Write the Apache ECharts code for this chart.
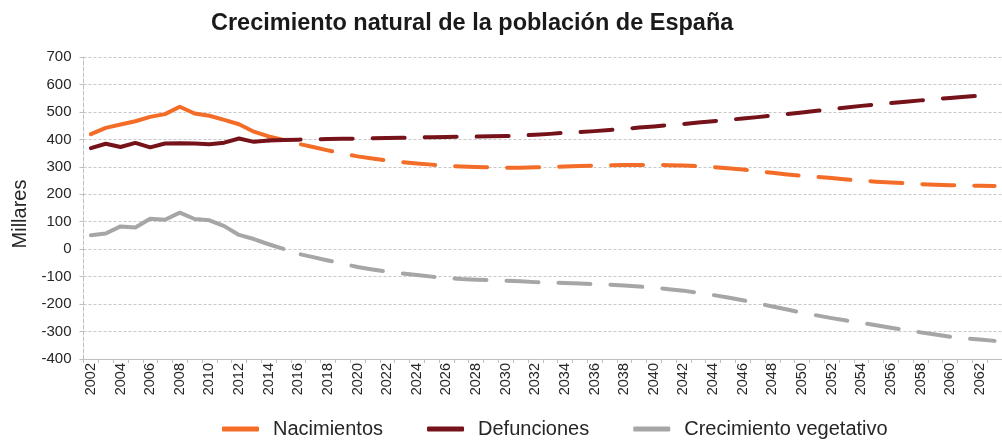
<!DOCTYPE html>
<html>
<head>
<meta charset="utf-8">
<script src="https://cdn.jsdelivr.net/npm/echarts@6/dist/echarts.min.js"></script>
<style>html,body{margin:0;padding:0;background:#fff}#c{width:1002px;height:441px}</style>
</head>
<body>
<div id="c"></div>
<script>
const years = ['2002','2003','2004','2005','2006','2007','2008','2009','2010','2011','2012','2013','2014','2015','2016','2017','2018','2019','2020','2021','2022','2023','2024','2025','2026','2027','2028','2029','2030','2031','2032','2033','2034','2035','2036','2037','2038','2039','2040','2041','2042','2043','2044','2045','2046','2047','2048','2049','2050','2051','2052','2053','2054','2055','2056','2057','2058','2059','2060','2061','2062','2063'];
const nacimientos = [419,442,454,466,482,492,519,494,486,471,455,428,411,398,384,372,360,348,338,330,323,317,312,308,304,301,299,298,297,297,298,299,301,303,304,306,307,307,307,306,305,302,299,295,290,284,278,272,267,263,259,254,250,246,243,240,237,235,233,232,231,230];
const defunciones = [368,384,372,387,371,385,386,385,382,388,403,391,396,398,399,400,401,402,403,404,405,406,407,408,409,410,410,411,412,414,417,420,424,427,430,434,438,443,447,452,456,461,466,471,476,481,487,492,498,504,510,516,522,527,532,537,542,547,551,555,559,563];
const crecimiento = [51,57,83,79,111,107,133,110,105,84,52,37,18,1,-17,-29,-41,-53,-65,-74,-82,-88,-94,-100,-105,-109,-111,-113,-115,-117,-120,-122,-123,-125,-127,-129,-132,-136,-140,-146,-151,-159,-167,-176,-186,-197,-209,-220,-231,-241,-251,-260,-268,-277,-286,-295,-303,-311,-319,-325,-329,-334];
const yTicks = [-400,-300,-200,-100,0,100,200,300,400,500,600,700];
const seriesNames = ['Nacimientos','Defunciones','Crecimiento vegetativo'];
const colors = ['#F36C28','#76121A','#A6A6A6'];
// last year drawn solid for each series (projection begins there)
const solidEnd = ['2015','2014','2015'];
const dashOffsets = [34, 0, 34];

const FONT = 'Liberation Sans, Arial, sans-serif';
const dataSets = [nacimientos, defunciones, crecimiento];
const series = [];
dataSets.forEach((arr, k) => {
  const cut = years.indexOf(solidEnd[k]);
  series.push({
    name: seriesNames[k], type: 'line', symbol: 'none', z: 3 + k,
    data: arr.map((v, i) => i <= cut ? v : null),
    lineStyle: { color: colors[k], width: 4, cap: 'round', join: 'round' },
    itemStyle: { color: colors[k] }
  });
  series.push({
    name: seriesNames[k], type: 'line', symbol: 'none', z: 3 + k,
    data: arr.map((v, i) => i >= cut ? v : null),
    lineStyle: { color: colors[k], width: 4, type: [32, 20], dashOffset: dashOffsets[k], cap: 'round', join: 'round' },
    itemStyle: { color: colors[k] }
  });
});

const chart = echarts.init(document.getElementById('c'), null, { renderer: 'canvas' });
chart.setOption({
  backgroundColor: '#fff',
  animation: false,
  textStyle: { fontFamily: FONT },
  title: {
    text: 'Crecimiento natural de la población de España',
    left: 206, top: 7,
    textStyle: { fontSize: 23.5, fontWeight: 'bold', color: '#1a1a1a', fontFamily: FONT }
  },
  legend: {
    data: seriesNames.map(n => ({ name: n, icon: 'roundRect' })),
    top: 414, left: 217,
    itemWidth: 37, itemHeight: 5, itemGap: 44,
    textStyle: { fontSize: 20, color: '#262626', padding: [0, 0, 0, 9], fontFamily: FONT }
  },
  grid: { left: 83.5, right: -10, top: 57, bottom: 82, containLabel: false },
  xAxis: {
    type: 'category', data: years, boundaryGap: true,
    axisLine: { show: true, onZero: false, lineStyle: { color: '#BFBFBF', width: 1 } },
    axisTick: { show: true, length: 4, alignWithLabel: false, interval: 0, lineStyle: { color: '#BFBFBF' } },
    axisLabel: { interval: 1, rotate: 90, fontSize: 14.5, color: '#262626', margin: 4, fontFamily: FONT },
    splitLine: { show: false }
  },
  yAxis: {
    type: 'value', min: yTicks[0], max: yTicks[yTicks.length - 1], interval: 100,
    name: 'Millares', nameLocation: 'middle', nameGap: 53, nameRotate: 90,
    nameTextStyle: { fontSize: 20, color: '#262626', fontFamily: FONT, padding: [0, 12, 0, 0] },
    axisLine: { show: true, lineStyle: { color: '#BFBFBF', type: 'dashed', width: 1 } },
    axisTick: { show: true, length: 4, lineStyle: { color: '#BFBFBF' } },
    axisLabel: { fontSize: 15, color: '#262626', margin: 12, fontFamily: FONT },
    splitLine: { show: true, lineStyle: { color: '#C8C8C8', type: [3, 2], width: 1 } }
  },
  series: series
});
</script>
</body>
</html>
